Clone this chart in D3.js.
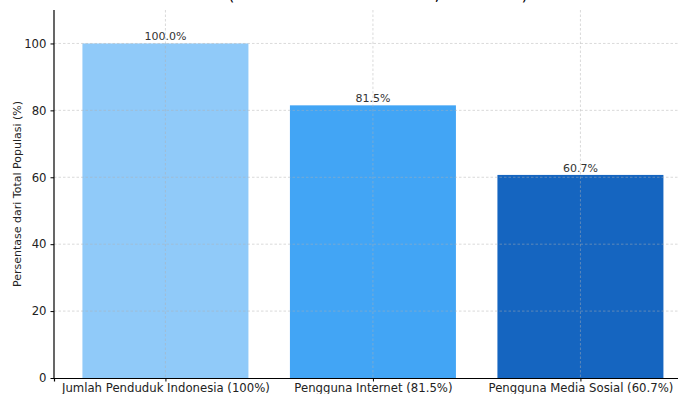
<!DOCTYPE html>
<html>
<head>
<meta charset="utf-8">
<script src="https://cdn.jsdelivr.net/npm/d3@7"></script>
<style>
  body { margin: 0; background: #fff; }
  svg { display: block; font-family: "DejaVu Sans", sans-serif; }
</style>
</head>
<body>
<div id="chart"></div>
<script>
// data
const categories = ['Jumlah Penduduk Indonesia (100%)', 'Pengguna Internet (81.5%)', 'Pengguna Media Sosial (60.7%)'];
const values = [100, 81.5, 60.7];
const barColors = ['#90CAF9', '#42A5F5', '#1565C0'];
const yTicks = [0, 20, 40, 60, 80, 100];

const width = 678, height = 394;
const mLeft = 54, mTop = 10, mBottom = 378;
const step = 207.5;

const svg = d3.select('#chart').append('svg')
  .attr('width', width)
  .attr('height', height);

// x: band centers, axes run off the right edge like the reference
const x = d3.scaleLinear()
  .domain([-0.537, categories.length - 1 + 0.537])
  .range([mLeft, mLeft + step * (categories.length - 1 + 2 * 0.537)]);

const y = d3.scaleLinear()
  .domain([0, 110])
  .range([mBottom, mTop]);

const barW = 0.8 * step;

// title (cut off at the top in the reference, only the descenders show)
svg.append('text')
  .attr('x', 378)
  .attr('y', -0.3)
  .attr('text-anchor', 'middle')
  .style('font-size', '16.6px')
  .style('fill', '#000')
  .text('(Sumber: Data Hootsuite, Mei 2024)');

// bars
svg.selectAll('rect.bar')
  .data(values)
  .enter().append('rect')
  .attr('class', 'bar')
  .attr('x', (d, i) => x(i) - barW / 2)
  .attr('width', barW)
  .attr('y', d => y(d))
  .attr('height', d => y(0) - y(d))
  .attr('fill', (d, i) => barColors[i]);

// grid on top of bars
const grid = svg.append('g')
  .attr('stroke', '#b0b0b0')
  .attr('stroke-opacity', 0.6)
  .attr('stroke-width', 0.8)
  .attr('stroke-dasharray', '2.5,2');

grid.selectAll('line.h')
  .data(yTicks.slice(1))
  .enter().append('line')
  .attr('x1', mLeft).attr('x2', width)
  .attr('y1', d => y(d)).attr('y2', d => y(d));

grid.selectAll('line.v')
  .data(categories)
  .enter().append('line')
  .attr('x1', (d, i) => x(i)).attr('x2', (d, i) => x(i))
  .attr('y1', mTop).attr('y2', mBottom);

// value labels
svg.selectAll('text.val')
  .data(values)
  .enter().append('text')
  .attr('class', 'val')
  .attr('x', (d, i) => x(i))
  .attr('y', d => y(d) - 3)
  .attr('text-anchor', 'middle')
  .style('font-size', '11px')
  .style('fill', '#333')
  .text(d => d.toFixed(1) + '%');

// axes
const yAxis = svg.append('g')
  .attr('transform', `translate(${mLeft},0)`)
  .call(d3.axisLeft(y).tickValues(yTicks).tickSize(3.5).tickPadding(4));

const xAxis = svg.append('g')
  .attr('transform', `translate(0,${mBottom})`)
  .call(d3.axisBottom(x).tickValues(d3.range(categories.length))
    .tickFormat(i => categories[i]).tickSize(3.5).tickPadding(2));

[yAxis, xAxis].forEach(g => {
  g.select('.domain').attr('stroke', '#000').attr('stroke-width', 1.2);
  g.selectAll('.tick line').attr('stroke', '#000');
  g.selectAll('.tick text').style('font-size', '11.7px').style('fill', '#222')
    .style('font-family', '"DejaVu Sans", sans-serif');
});
yAxis.select('.domain').attr('d', `M0,${mTop}V${mBottom}`);

// y label
svg.append('text')
  .attr('transform', `translate(21,${(mTop + mBottom) / 2}) rotate(-90)`)
  .attr('text-anchor', 'middle')
  .style('font-size', '11px')
  .style('fill', '#222')
  .text('Persentase dari Total Populasi (%)');
</script>
</body>
</html>
